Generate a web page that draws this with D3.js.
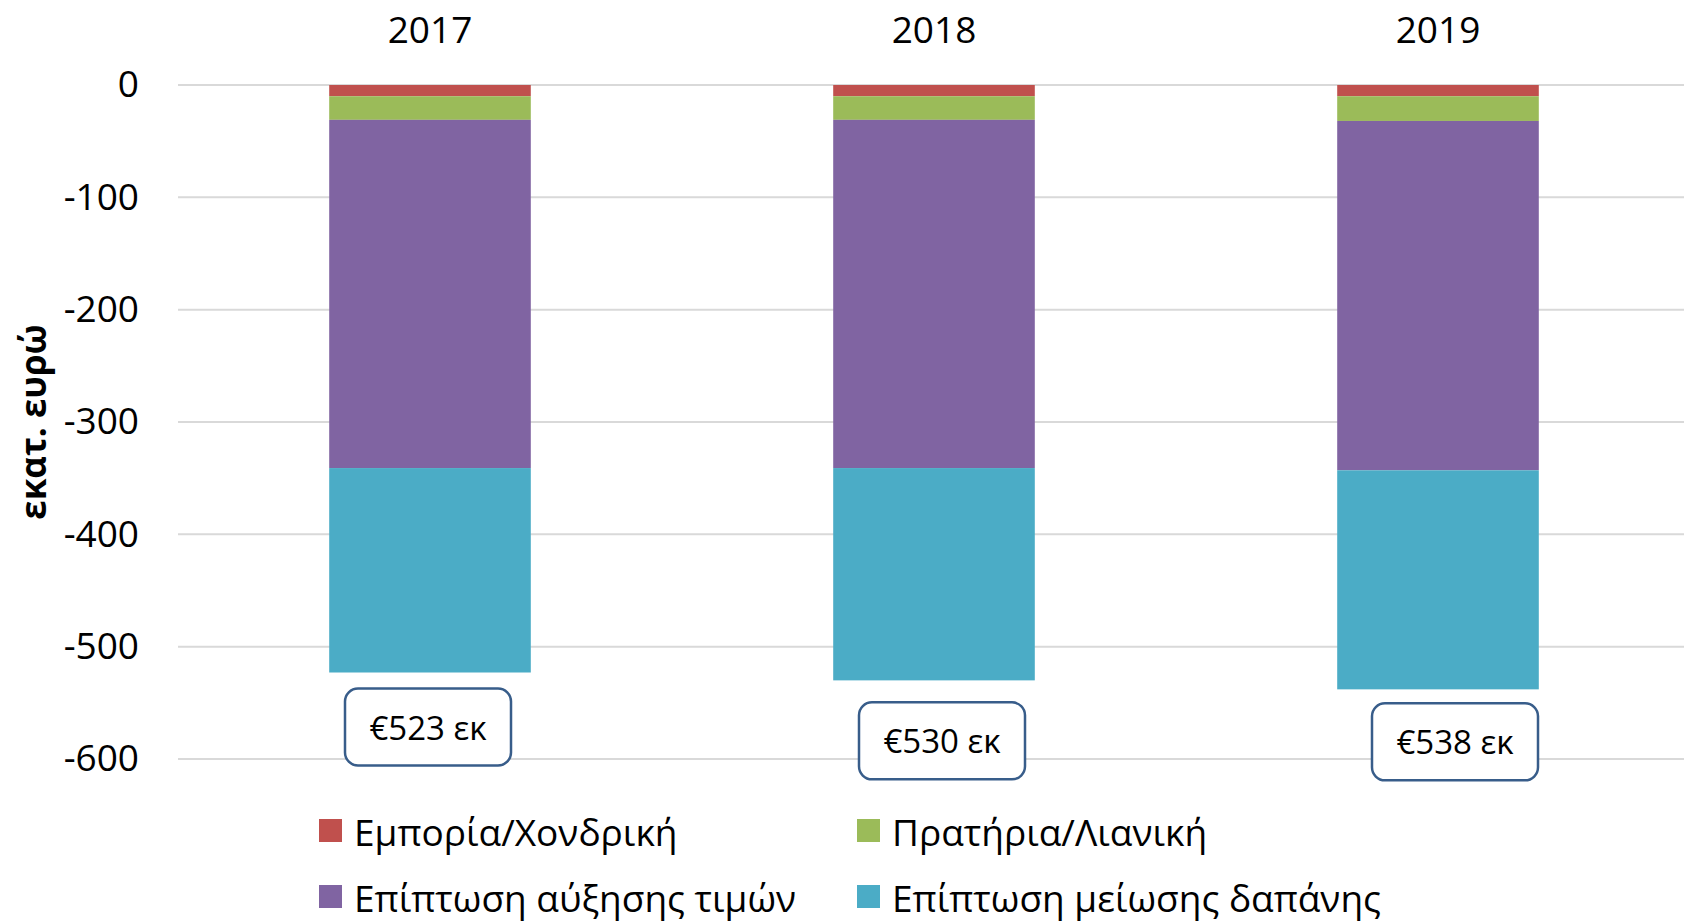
<!DOCTYPE html>
<html>
<head>
<meta charset="utf-8">
<script src="https://cdn.jsdelivr.net/npm/d3@7"></script>
<style>
  body { margin: 0; background: #fff; }
  text { font-family: "Open Sans", sans-serif; fill: #000; }
</style>
</head>
<body>
<div id="chart"></div>
<script>
// data (million euro, negative = cost)
var years = ['2017', '2018', '2019']
var seriesNames = ['Εμπορία/Χονδρική', 'Πρατήρια/Λιανική', 'Επίπτωση αύξησης τιμών', 'Επίπτωση μείωσης δαπάνης']
var wholesale = [-10, -10, -10]
var retail = [-21, -21, -22]
var priceRise = [-310, -310, -311]
var spendCut = [-182, -189, -195]
var totalLabels = ['€523 εκ', '€530 εκ', '€538 εκ']
var yTicks = [0, -100, -200, -300, -400, -500, -600]

var colors = ['#C0504D', '#9BBB59', '#8064A2', '#4BACC6']

// label boxes were nudged by hand in the original
var boxDx = [-2, 8, 17]
var boxDy = [16, 22, 14]

var width = 1684, height = 921

var svg = d3.select('#chart')
    .append('svg')
        .attr('width', width)
        .attr('height', height)

var x = d3.scaleBand()
    .domain(years)
    .range([178, 1690])
    .paddingInner(0.6)
    .paddingOuter(0.3)

var y = d3.scaleLinear()
    .domain([-600, 0])
    .range([759, 85])

// gridlines
svg.append('g')
    .selectAll('line')
    .data(yTicks)
    .enter()
    .append('line')
        .attr('x1', 178)
        .attr('x2', width)
        .attr('y1', function(d) { return y(d) })
        .attr('y2', function(d) { return y(d) })
        .style('stroke', '#D9D9D9')
        .style('stroke-width', 2)

// y axis labels
var yAxis = svg.append('g')
    .attr('transform', 'translate(148,0)')
    .call(d3.axisLeft(y).tickValues(yTicks).tickSize(0).tickPadding(9).tickFormat(function(d) { return d === 0 ? '0' : '-' + Math.abs(d) }))
yAxis.select('.domain').remove()
yAxis.selectAll('text')
    .style('font-family', '"Open Sans", sans-serif')
    .style('font-size', '37px')
    .attr('fill', '#000')

// stacked bars
var rows = years.map(function(yr, i) {
    return { year: yr, s0: wholesale[i], s1: retail[i], s2: priceRise[i], s3: spendCut[i] }
})
var stack = d3.stack()
    .keys(['s0', 's1', 's2', 's3'])
    .offset(d3.stackOffsetDiverging)
var stacked = stack(rows)

svg.append('g')
    .selectAll('g')
    .data(stacked)
    .enter()
    .append('g')
        .attr('fill', function(d, i) { return colors[i] })
    .selectAll('rect')
    .data(function(d) { return d })
    .enter()
    .append('rect')
        .attr('x', function(d) { return x(d.data.year) })
        .attr('width', x.bandwidth())
        .attr('y', function(d) { return Math.min(y(d[0]), y(d[1])) })
        .attr('height', function(d) { return Math.abs(y(d[0]) - y(d[1])) })

// year labels on top
svg.append('g')
    .selectAll('text')
    .data(years)
    .enter()
    .append('text')
        .attr('x', function(d) { return x(d) + x.bandwidth() / 2 })
        .attr('y', 43)
        .attr('text-anchor', 'middle')
        .style('font-size', '37px')
        .text(function(d) { return d })

// total label boxes
var boxW = 166, boxH = 77
var totals = years.map(function(yr, i) { return wholesale[i] + retail[i] + priceRise[i] + spendCut[i] })
var box = svg.append('g')
    .selectAll('g')
    .data(years)
    .enter()
    .append('g')
        .attr('transform', function(d, i) {
            var cx = x(d) + x.bandwidth() / 2 + boxDx[i]
            return 'translate(' + (cx - boxW / 2) + ',' + (y(totals[i]) + boxDy[i]) + ')'
        })
box.append('rect')
    .attr('width', boxW)
    .attr('height', boxH)
    .attr('rx', 13)
    .attr('fill', '#fff')
    .style('stroke', '#385D8A')
    .style('stroke-width', 2.5)
box.append('text')
    .attr('x', boxW / 2)
    .attr('y', boxH / 2)
    .attr('text-anchor', 'middle')
    .attr('dominant-baseline', 'central')
    .style('font-size', '33px')
    .text(function(d, i) { return totalLabels[i] })

// y axis title
svg.append('text')
    .attr('transform', 'translate(32,422) rotate(-90)')
    .attr('text-anchor', 'middle')
    .attr('dominant-baseline', 'central')
    .style('font-size', '35px')
    .style('font-weight', 'bold')
    .text('εκατ. ευρώ')

// legend, 2 x 2
var legendPos = [[319, 831], [857, 831], [319, 897], [857, 897]]
var legend = svg.append('g')
    .selectAll('g')
    .data(seriesNames)
    .enter()
    .append('g')
        .attr('transform', function(d, i) { return 'translate(' + legendPos[i][0] + ',' + legendPos[i][1] + ')' })
legend.append('rect')
    .attr('y', -12)
    .attr('width', 23)
    .attr('height', 23)
    .attr('fill', function(d, i) { return colors[i] })
legend.append('text')
    .attr('x', 35)
    .attr('dominant-baseline', 'central')
    .style('font-size', '37px')
    .text(function(d) { return d })
</script>
</body>
</html>
